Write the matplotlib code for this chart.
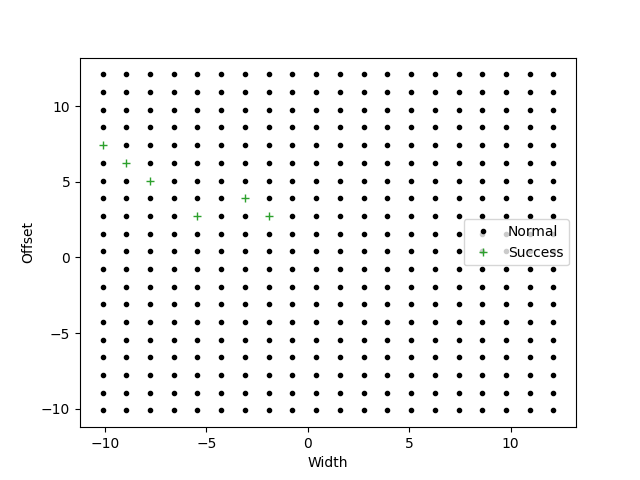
import matplotlib.pyplot as plt

# grid of tested widths / offsets
widths = [-10.12, -8.95, -7.78, -6.61, -5.44, -4.27, -3.10, -1.93, -0.76, 0.41,
          1.58, 2.75, 3.92, 5.09, 6.26, 7.43, 8.60, 9.77, 10.94, 12.11]
offsets = [-10.12, -8.95, -7.78, -6.61, -5.44, -4.27, -3.10, -1.93, -0.76, 0.41,
           1.58, 2.75, 3.92, 5.09, 6.26, 7.43, 8.60, 9.77, 10.94, 12.11]

# successful combinations
success_w = [-10.12, -8.95, -7.78, -5.44, -3.10, -1.93]
success_o = [7.43, 6.26, 5.09, 2.75, 3.92, 2.75]

success = set(zip(success_w, success_o))
normal_w = []
normal_o = []
for w in widths:
    for o in offsets:
        if (w, o) not in success:
            normal_w.append(w)
            normal_o.append(o)

plt.figure(figsize=(6.4, 4.8), dpi=100)
plt.plot(normal_w, normal_o, 'k.', label='Normal')
plt.plot(success_w, success_o, '+', color='C2', label='Success')
plt.xlabel('Width')
plt.ylabel('Offset')
plt.legend(loc='right')
plt.savefig('out.png')
